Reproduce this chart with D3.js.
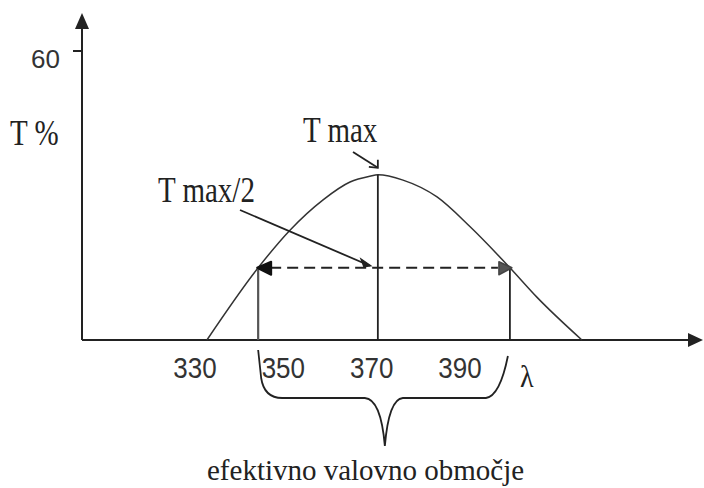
<!DOCTYPE html>
<html>
<head>
<meta charset="utf-8">
<script src="https://cdn.jsdelivr.net/npm/d3@7/dist/d3.min.js"></script>
<style>
  html, body { margin: 0; padding: 0; background: #fff; }
  svg { display: block; }
</style>
</head>
<body>
<svg id="chart" width="704" height="488"></svg>
<script>
// Transmission band of an interference filter (T % against wavelength λ)
const wavelength    = [332.7, 344.3, 351.5, 359.0, 365.1, 369.6, 371.4, 377.1, 384.8, 392.3, 401.3, 407.4, 417.6];
const transmittance = [0,     15.0,  22.8,  29.1,  32.8,  34.0,  34.3,  33.2,  29.7,  23.5,  15.0,  8.9,   0];
const xTickValues = [330, 350, 370, 390];
const yTickValues = [60];
const peakWavelength = 371.4;   // T max
const peakValue = 34.3;
const halfLeft = 344.3;         // edges of the band at T max/2
const halfRight = 401.3;
const halfValue = 15.0;
const labels = {
  yTitle: "T %",
  xTitle: "λ",
  tmax: "T max",
  thalf: "T max/2",
  band: "efektivno valovno območje"
};

const svg = d3.select("#chart");
const x = d3.scaleLinear().domain([330, 390]).range([195, 460]);
const y = d3.scaleLinear().domain([0, 60]).range([340, 51]);

const ink = "#222";
const serif = "'Liberation Serif', 'Times New Roman', serif";
const sans = "'Liberation Sans', Arial, sans-serif";
const stretch = 1.2;

function text(px, py, str, font, size, anchor, sy) {
  return svg.append("text")
    .attr("transform", `translate(${px},${py}) scale(1,${sy})`)
    .attr("font-family", font)
    .attr("font-size", size)
    .attr("text-anchor", anchor)
    .attr("fill", ink)
    .text(str);
}

// Axes
const x0 = x.range()[0] - 113;            // y axis position
svg.append("line").attr("x1", x0).attr("x2", 690).attr("y1", y(0)).attr("y2", y(0))
  .attr("stroke", ink).attr("stroke-width", 2);
svg.append("line").attr("x1", x0).attr("x2", x0).attr("y1", y(0)).attr("y2", 26)
  .attr("stroke", ink).attr("stroke-width", 2);
svg.append("path").attr("d", `M703,${y(0)} L688,${y(0) - 7} L688,${y(0) + 7} Z`).attr("fill", ink);
svg.append("path").attr("d", `M${x0},13 L${x0 - 7},29 L${x0 + 7},29 Z`).attr("fill", ink);

// y ticks
yTickValues.forEach(v => {
  svg.append("line").attr("x1", x0 - 9).attr("x2", x0).attr("y1", y(v)).attr("y2", y(v))
    .attr("stroke", ink).attr("stroke-width", 2);
  text(x0 - 22, y(v) + 17, v, sans, 26, "end", 1).attr("fill", "#333");
});

// x tick labels
xTickValues.forEach(v => {
  text(x(v), 378, v, sans, 26, "middle", 1.12).attr("fill", "#333");
});
text(520, 387, labels.xTitle, serif, 28, "start", 1.15);
text(10, 145, labels.yTitle, serif, 29, "start", stretch);

// Transmission curve
const pts = wavelength.map((w, i) => [w, transmittance[i]]);
svg.append("path")
  .datum(pts)
  .attr("d", d3.line().x(d => x(d[0])).y(d => y(d[1])).curve(d3.curveMonotoneX))
  .attr("fill", "none").attr("stroke", "#333").attr("stroke-width", 1.5);

// Vertical guide lines
[[halfLeft, halfValue, "#555", 2.2], [peakWavelength, peakValue, ink, 1.8], [halfRight, halfValue, ink, 1.8]]
  .forEach(([w, t, c, sw]) => {
    svg.append("line").attr("x1", x(w)).attr("x2", x(w)).attr("y1", y(0)).attr("y2", y(t))
      .attr("stroke", c).attr("stroke-width", sw);
  });

// Dashed half-height band with arrowheads
const yh = y(halfValue);
svg.append("line").attr("x1", x(halfLeft) + 12).attr("x2", x(halfRight) - 12)
  .attr("y1", yh).attr("y2", yh)
  .attr("stroke", ink).attr("stroke-width", 2).attr("stroke-dasharray", "11,6");
svg.append("path")
  .attr("d", `M${x(halfLeft) - 1},${yh} L${x(halfLeft) + 13},${yh - 6} L${x(halfLeft) + 13},${yh + 7} Z`)
  .attr("fill", "#111").attr("stroke", "#111").attr("stroke-width", 2).attr("stroke-linejoin", "round");
svg.append("path")
  .attr("d", `M${x(halfRight) + 2},${yh} L${x(halfRight) - 11},${yh - 6} L${x(halfRight) - 11},${yh + 7} Z`)
  .attr("fill", "#555").attr("stroke", "#444").attr("stroke-width", 1.5).attr("stroke-linejoin", "round");

// Annotations
text(303, 142, labels.tmax, serif, 29, "start", stretch);
text(158, 202, labels.thalf, serif, 29, "start", stretch);

const tipMax = [x(peakWavelength), y(peakValue) - 7];
svg.append("line").attr("x1", 353).attr("y1", 152).attr("x2", tipMax[0]).attr("y2", tipMax[1])
  .attr("stroke", ink).attr("stroke-width", 1.8);
svg.append("path")
  .attr("d", `M${tipMax[0]},${tipMax[1] - 8} L${tipMax[0]},${tipMax[1]} L${tipMax[0] - 9},${tipMax[1] - 1}`)
  .attr("fill", "none").attr("stroke", ink).attr("stroke-width", 1.8);

const tipHalf = [x(peakWavelength) - 8, yh - 2];
svg.append("line").attr("x1", 240).attr("y1", 210).attr("x2", tipHalf[0]).attr("y2", tipHalf[1])
  .attr("stroke", ink).attr("stroke-width", 1.8);
svg.append("path")
  .attr("d", `M${tipHalf[0] + 1},${tipHalf[1]} L${tipHalf[0] - 9},${tipHalf[1] - 7} L${tipHalf[0] - 6},${tipHalf[1] + 1} Z`)
  .attr("fill", ink).attr("stroke", ink).attr("stroke-width", 1.2);

// Brace under the effective band
const bl = x(halfLeft), br = x(halfRight) - 2, bm = x(peakWavelength) + 7;
svg.append("path")
  .attr("d", `M${bl},350 L${bl + 3},378 Q${bl + 6},398 ${bl + 24},398 L${bm - 20},398
              Q${bm - 4},399 ${bm},446 Q${bm + 4},399 ${bm + 18},398 L${br - 22},398
              Q${br - 8},396 ${br},356`)
  .attr("fill", "none").attr("stroke", ink).attr("stroke-width", 1.8);

text(207, 480, labels.band, serif, 29, "start", 1.05);
</script>
</body>
</html>
